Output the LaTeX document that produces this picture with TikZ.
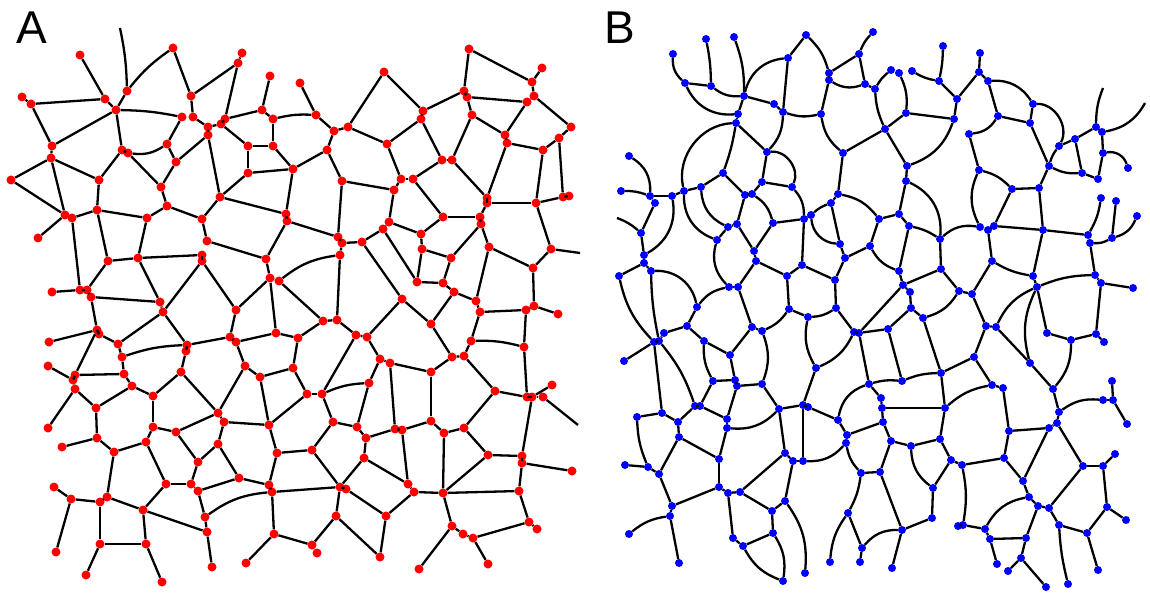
\documentclass[tikz,border=0pt]{standalone}
\usepackage{fontspec}
\newfontfamily\labfont{Liberation Sans}
\begin{document}
\begin{tikzpicture}[x=1pt,y=-1pt,
  rd/.style={circle,fill=red,inner sep=0pt,minimum size=9pt},
  bl/.style={circle,fill=blue,inner sep=0pt,minimum size=8pt},
  lnk/.style={line width=2.3pt,black},
  lab/.style={font=\labfont\fontsize{46}{46}\selectfont,anchor=base west,inner sep=0pt}]
\useasboundingbox (0,0) rectangle (1150,593);
\node[lab] (labA) at (16,44) {A};
\node[lab] (labB) at (604,44) {B};
% ---------------- panel A nodes ----------------
\foreach \x/\y in {80/55,173/48,242/53,238/63,270/76,300/83,22/97,31/104,105/99,127/91,116/110,191/96,182/117,193/117,208/127,208/135,221/124,225/119,262/110,273/119,248/146,273/146,293/169,248/173,52/146,51/158,122/150,128/153,167/144,176/162,161/187,11/180,99/180,220/197,167/206,97/210,65/215,72/218,147/218,202/219,286/214,
469/49,542/68,532/82,384/72,464/91,467/97,527/102,534/96,423/111,421/119,316/115,334/131,348/127,472/115,505/135,507/143,571/127,559/138,543/150,387/144,327/150,442/160,452/160,342/181,401/179,413/179,394/190,487/198,487/203,536/203,563/197,569/196,443/217,480/217,
38/238,108/261,138/258,207/241,202/255,202/261,266/259,287/221,270/278,279/281,52/292,80/290,87/290,91/297,160/302,163/312,236/310,97/330,99/334,49/342,118/344,122/357,187/345,186/351,230/337,236/342,276/333,298/338,48/366,75/375,73/380,124/374,181/372,245/366,260/377,293/368,75/389,132/386,153/396,
96/408,48/428,153/427,176/432,218/413,224/422,269/425,97/438,62/447,114/452,146/442,218/444,198/462,277/453,239/478,166/484,191/484,198/491,269/485,272/492,54/487,71/499,100/502,107/497,143/510,205/517,207/532,274/534,56/552,100/544,146/544,246/563,212/567,86/575,162/582,
338/237,342/243,362/242,383/229,389/222,481/224,421/234,340/255,422/249,451/258,489/247,551/249,533/268,417/282,443/283,454/292,402/299,476/301,534/306,526/310,480/312,558/314,323/321,337/320,431/324,356/335,367/337,471/341,524/347,380/359,390/363,452/357,464/356,431/372,369/383,307/394,322/394,495/391,527/397,532/397,552/385,543/397,
333/422,357/427,366/438,395/429,402/430,431/421,444/433,464/428,312/450,364/458,488/455,522/456,522/463,572/471,340/487,346/489,408/484,414/492,443/493,519/491,336/516,386/516,452/526,463/534,473/538,529/522,537/529,312/545,317/553,380/557,419/569,488/564}
  \node[rd] (a\x x\y) at (\x,\y) {};
\foreach \x/\y in {120/28,580/253,578/425}
  \coordinate (a\x x\y) at (\x,\y);
% ---------------- panel A links ----------------
\foreach \p/\q/\r/\s/\c in {80/55/105/99/0,120/28/127/91/5,127/91/173/48/8,127/91/116/110/0,22/97/31/104/0,31/104/105/99/0,31/104/52/146/0,105/99/116/110/0,173/48/191/96/0,238/63/191/96/0,242/53/238/63/0,238/63/225/119/0,270/76/262/110/0,262/110/225/119/0,262/110/273/119/0,273/119/316/115/8,116/110/182/117/5,191/96/193/117/0,193/117/208/127/0,182/117/167/144/0,167/144/128/153/20,167/144/176/162/0,176/162/208/135/0,208/127/221/124/0,208/127/208/135/0,221/124/225/119/0,221/124/248/146/0,248/146/273/146/0,248/146/248/173/0,273/119/273/146/0,273/146/293/169/0,248/173/293/169/0,248/173/220/197/0,208/135/220/197/0,220/197/286/214/0,116/110/52/146/0,116/110/122/150/0,52/146/51/158/0,51/158/11/180/0,11/180/65/215/0,51/158/65/215/0,51/158/99/180/0,122/150/99/180/0,122/150/128/153/0,128/153/161/187/0,176/162/161/187/0,161/187/167/206/0,99/180/97/210/0,97/210/72/218/0,97/210/147/218/0,167/206/147/218/0,167/206/202/219/0,220/197/202/219/0,293/169/286/214/0,
300/83/316/115/0,316/115/334/131/0,334/131/348/127/0,348/127/384/72/0,384/72/423/111/0,423/111/464/91/0,464/91/469/49/0,469/49/532/82/0,532/82/542/68/0,532/82/534/96/0,467/97/527/102/0,534/96/571/127/0,527/102/505/135/0,467/97/472/115/0,464/91/467/97/0,472/115/505/135/0,472/115/452/160/0,505/135/507/143/0,507/143/543/150/0,543/150/559/138/0,559/138/571/127/0,559/138/563/197/0,543/150/536/203/0,507/143/487/198/0,487/203/536/203/0,536/203/563/197/0,563/197/569/196/0,452/160/487/198/0,487/198/487/203/0,442/160/452/160/0,442/160/413/179/0,442/160/421/119/0,423/111/421/119/0,421/119/387/144/0,387/144/348/127/0,387/144/401/179/0,401/179/394/190/0,401/179/413/179/0,394/190/342/181/0,342/181/327/150/0,327/150/334/131/0,327/150/293/169/0,413/179/443/217/0,443/217/480/217/0,480/217/487/203/0,527/102/534/96/0,
38/238/65/215/0,72/218/80/290/0,97/210/108/261/0,147/218/138/258/0,202/219/207/241/0,207/241/266/259/0,266/259/287/221/0,286/214/287/221/0,108/261/138/258/0,138/258/202/255/0,202/255/202/261/0,108/261/87/290/0,52/292/80/290/0,80/290/87/290/0,87/290/91/297/0,91/297/160/302/0,138/258/160/302/0,160/302/163/312/0,202/261/163/312/0,202/261/236/310/0,236/310/270/278/0,266/259/270/278/0,270/278/279/281/0,279/281/340/255/15,279/281/323/321/0,270/278/276/333/0,91/297/97/330/0,97/330/99/334/0,49/342/97/330/0,99/334/118/344/0,163/312/118/344/0,163/312/187/345/0,118/344/122/357/0,122/357/187/345/8,187/345/186/351/0,186/351/181/372/0,187/345/230/337/0,236/310/230/337/0,230/337/236/342/0,236/342/276/333/0,276/333/298/338/0,298/338/323/321/0,298/338/293/368/0,236/342/245/366/0,245/366/260/377/0,260/377/293/368/0,260/377/269/425/0,97/330/75/375/0,75/375/73/380/0,48/366/73/380/0,75/375/124/374/0,73/380/75/389/0,122/357/124/374/0,124/374/132/386/0,132/386/153/396/0,181/372/153/396/0,181/372/218/413/0,245/366/218/413/0,
75/389/48/428/0,75/389/96/408/0,96/408/132/386/0,153/396/153/427/0,96/408/97/438/0,97/438/62/447/0,97/438/114/452/0,114/452/146/442/0,146/442/153/427/0,153/427/176/432/0,176/432/218/413/0,218/413/224/422/0,224/422/269/425/0,269/425/307/394/0,224/422/218/444/0,218/444/198/462/0,218/444/239/478/0,176/432/198/462/0,198/462/191/484/0,146/442/166/484/0,166/484/191/484/0,191/484/198/491/0,166/484/143/510/0,198/491/239/478/0,239/478/269/485/0,269/485/272/492/0,269/425/277/453/0,277/453/269/485/0,277/453/312/450/0,272/492/340/487/0,198/491/205/517/0,205/517/272/492/15,205/517/207/532/0,207/532/212/567/0,143/510/207/532/0,114/452/107/497/0,107/497/100/502/0,107/497/143/510/0,54/487/71/499/0,71/499/100/502/0,71/499/56/552/0,100/502/100/544/0,100/544/146/544/0,143/510/146/544/0,146/544/162/582/0,100/544/86/575/0,272/492/274/534/0,274/534/246/563/0,274/534/312/545/0,
287/221/338/237/0,342/181/338/237/0,338/237/342/243/0,342/243/362/242/0,342/243/340/255/0,362/242/383/229/0,383/229/389/222/0,389/222/394/190/0,389/222/421/234/0,421/234/443/217/0,481/224/480/217/0,481/224/451/258/0,421/234/422/249/0,422/249/451/258/0,451/258/443/283/0,422/249/417/282/0,383/229/417/282/0,417/282/443/283/0,443/283/454/292/0,454/292/476/301/0,454/292/431/324/0,362/242/402/299/0,402/299/431/324/0,402/299/367/337/0,431/324/452/357/0,340/255/337/320/0,323/321/337/320/0,337/320/356/335/0,356/335/367/337/0,356/335/322/394/0,367/337/380/359/0,380/359/390/363/0,390/363/431/372/0,431/372/452/357/0,452/357/464/356/0,464/356/495/391/0,464/356/471/341/0,471/341/480/312/0,476/301/480/312/0,481/224/489/247/0,489/247/476/301/0,489/247/533/268/0,533/268/551/249/0,551/249/536/203/0,551/249/580/253/0,533/268/534/306/0,534/306/558/314/0,534/306/526/310/0,526/310/480/312/0,526/310/524/347/0,471/341/524/347/8,524/347/527/397/0,495/391/527/397/0,527/397/532/397/0,532/397/552/385/0,532/397/543/397/0,543/397/578/425/0,
369/383/322/394/-10,369/383/380/359/0,307/394/322/394/0,293/368/307/394/0,322/394/333/422/0,333/422/357/427/0,357/427/369/383/0,357/427/366/438/0,366/438/395/429/0,390/363/395/429/0,395/429/402/430/0,402/430/431/421/0,431/421/431/372/0,431/421/444/433/0,444/433/464/428/0,464/428/495/391/0,532/397/522/456/0,464/428/488/455/0,488/455/522/456/0,522/456/522/463/0,522/463/572/471/0,522/463/519/491/0,444/433/443/493/0,443/493/519/491/0,443/493/488/455/0,443/493/452/526/0,452/526/419/569/0,452/526/463/534/0,463/534/473/538/0,473/538/529/522/0,519/491/529/522/0,529/522/537/529/0,473/538/488/564/0,333/422/312/450/0,312/450/340/487/0,366/438/364/458/0,364/458/340/487/0,364/458/408/484/0,402/430/408/484/0,408/484/414/492/0,414/492/443/493/0,414/492/386/516/0,340/487/346/489/0,346/489/386/516/0,386/516/380/557/0,340/487/336/516/0,336/516/380/557/0,336/516/312/545/0,312/545/317/553/0}
  \draw[lnk] (a\p x\q) to[bend left=\c] (a\r x\s);
% ---------------- panel B nodes ----------------
\foreach \x/\y in {706/39,734/37,673/54,806/35,873/32,788/58,859/54,829/73,829/80,685/83,711/86,744/96,774/104,783/112,821/114,865/84,875/89,891/70,899/73,738/114,736/123,767/152,843/153,885/129,629/156,723/173,762/182,792/187,621/191,650/196,655/203,672/196,684/191,701/187,745/195,752/194,838/194,831/203,804/219,811/215,879/219,899/214,912/71,939/81,943/46,980/53,979/72,988/81,957/99,1033/104,906/113,954/119,998/116,1030/123,969/134,1096/127,1102/132,1075/139,1059/146,1103/153,1049/166,907/166,1128/168,1082/173,1098/179,979/170,906/181,1012/189,1039/188,1101/198,1116/201,1137/216,
641/233,644/255,644/263,651/271,619/276,728/227,737/224,717/240,773/223,840/244,845/258,870/246,754/251,756/261,802/265,787/276,835/280,729/287,738/287,697/307,789/309,808/317,836/308,687/326,664/333,654/342,659/341,752/327,762/331,854/332,859/333,888/329,704/341,730/355,624/361,816/368,713/381,735/380,737/386,762/384,869/384,
909/226,940/239,980/227,988/230,994/226,1043/230,1088/235,1090/243,1112/238,992/261,899/271,941/269,1033/276,1095/275,1101/283,1133/288,1037/287,903/285,910/292,959/291,972/294,911/308,923/318,986/326,996/327,1047/333,1071/340,1096/334,1104/342,974/357,1030/363,941/373,902/381,881/398,992/385,1003/388,1053/389,1112/381,1103/400,1113/400,
637/417,662/413,678/422,695/406,700/406,727/419,727/428,779/409,803/405,808/407,838/420,847/435,846/443,882/408,883/422,679/437,719/459,785/453,793/461,803/461,625/465,648/467,659/474,861/473,880/472,719/487,728/493,740/492,785/501,672/506,670/516,772/511,848/513,773/533,733/538,743/546,629/534,862/548,679/563,830/562,860/562,805/573,783/581,
945/408,891/441,911/446,940/439,951/460,962/465,1004/458,1009/431,1049/428,1057/423,1059/412,1127/424,1115/454,1083/466,1103/466,933/488,1023/481,1029/497,1038/506,1049/508,1107/507,1126/520,932/518,958/526,963/525,985/529,1059/525,1087/533,902/530,990/539,1026/538,1021/558,997/564,892/568,1008/571,1098/570,1046/587,1068/584}
  \node[bl] (b\x x\y) at (\x,\y) {};
\foreach \x/\y in {617/218,1103/88,1145/103}
  \coordinate (b\x x\y) at (\x,\y);
% ---------------- panel B links ----------------
\foreach \p/\q/\r/\s/\c in {673/54/685/83/-25,706/39/711/86/5,685/83/711/86/0,711/86/744/96/-20,734/37/744/96/10,744/96/788/58/35,788/58/783/112/0,744/96/774/104/0,774/104/783/112/0,783/112/821/114/-15,806/35/788/58/0,806/35/829/73/15,829/73/829/80/0,829/73/859/54/0,859/54/873/32/10,859/54/865/84/0,829/80/865/84/-25,865/84/875/89/0,875/89/891/70/10,875/89/885/129/-10,829/80/821/114/0,821/114/843/153/-20,843/153/885/129/0,843/153/838/194/0,838/194/831/203/0,831/203/811/215/-10,811/215/804/219/0,838/194/879/219/20,685/83/738/114/-35,744/96/738/114/0,738/114/736/123/0,736/123/767/152/0,736/123/723/173/5,736/123/684/191/-50,783/112/767/152/20,767/152/762/182/0,767/152/792/187/60,762/182/792/187/0,723/173/701/187/0,723/173/745/195/0,762/182/752/194/0,745/195/752/194/0,701/187/684/191/0,672/196/684/191/0,650/196/672/196/0,629/156/650/196/30,621/191/650/196/10,650/196/655/203/0,792/187/804/219/20,752/194/773/223/20,701/187/728/227/-30,684/191/717/240/-35,672/196/644/255/35,
899/73/906/113/15,906/113/885/129/0,906/113/954/119/0,912/71/939/81/-10,943/46/939/81/5,939/81/957/99/0,957/99/954/119/0,957/99/979/72/0,980/53/979/72/0,979/72/988/81/0,988/81/1033/104/30,988/81/998/116/0,998/116/1030/123/0,998/116/969/134/25,1033/104/1030/123/0,1033/104/1059/146/60,954/119/907/166/25,969/134/979/170/0,885/129/907/166/0,907/166/906/181/0,906/181/899/214/0,879/219/899/214/0,979/170/1012/189/15,979/170/980/227/-25,1012/189/994/226/0,1012/189/1039/188/0,1039/188/1043/230/0,1030/123/1049/166/0,1049/166/1039/188/0,1049/166/1059/146/10,1059/146/1075/139/0,1075/139/1096/127/0,1096/127/1103/88/10,1102/132/1145/103/-25,1096/127/1102/132/0,1102/132/1103/153/0,1103/153/1128/168/40,1103/153/1098/179/0,1075/139/1082/173/0,1049/166/1082/173/-15,1082/173/1098/179/0,1101/198/1088/235/10,1116/201/1112/238/0,1137/216/1112/238/25,
655/203/641/233/0,617/218/641/233/10,641/233/644/255/0,644/255/644/263/0,644/263/619/276/0,644/263/651/271/0,651/271/697/307/40,619/276/654/342/-15,651/271/659/341/-5,654/342/659/341/0,659/341/664/333/0,664/333/687/326/0,687/326/697/307/0,697/307/729/287/20,624/361/654/342/0,659/341/695/406/10,654/342/662/413/0,687/326/704/341/0,704/341/730/355/0,730/355/752/327/0,730/355/735/380/0,704/341/713/381/-15,713/381/735/380/0,735/380/737/386/0,737/386/762/384/0,762/331/762/384/20,738/287/752/327/0,752/327/762/331/0,762/331/789/309/-15,729/287/738/287/0,729/287/717/240/30,717/240/728/227/0,728/227/737/224/0,737/224/745/195/0,737/224/754/251/0,754/251/773/223/0,773/223/804/219/0,754/251/756/261/0,756/261/738/287/0,756/261/787/276/0,787/276/802/265/0,787/276/789/309/0,802/265/804/219/0,802/265/835/280/0,835/280/845/258/0,845/258/840/244/0,840/244/831/203/0,811/215/840/244/-40,845/258/870/246/0,870/246/879/219/0,870/246/899/271/-20,835/280/836/308/0,836/308/808/317/15,808/317/789/309/0,808/317/816/368/-20,836/308/854/332/0,816/368/854/332/-20,854/332/859/333/0,859/333/888/329/0,859/333/869/384/0,888/329/911/308/0,869/384/881/398/0,762/384/779/409/0,737/386/727/419/0,713/381/700/406/0,816/368/803/405/0,
899/214/909/226/0,909/226/940/239/10,909/226/899/271/0,899/271/903/285/0,906/181/940/239/35,940/239/941/269/0,940/239/980/227/25,980/227/988/230/0,988/230/994/226/0,994/226/1043/230/0,988/230/992/261/0,992/261/1033/276/-10,992/261/972/294/0,941/269/959/291/0,941/269/903/285/0,903/285/859/333/0,903/285/910/292/0,910/292/911/308/0,911/308/923/318/0,923/318/959/291/-20,959/291/972/294/0,972/294/986/326/0,986/326/996/327/0,996/327/1037/287/20,1037/287/1033/276/0,1043/230/1033/276/0,1043/230/1088/235/0,1088/235/1090/243/0,1090/243/1112/238/-15,1090/243/1095/275/0,1037/287/1095/275/10,1095/275/1101/283/0,1101/283/1133/288/0,1101/283/1096/334/0,1096/334/1104/342/0,1096/334/1071/340/0,1071/340/1047/333/0,1047/333/1037/287/0,1071/340/1053/389/20,1053/389/1030/363/0,1030/363/996/327/0,1030/363/1037/287/20,986/326/974/357/0,974/357/941/373/0,974/357/992/385/0,941/373/902/381/-10,941/373/923/318/0,888/329/902/381/0,869/384/902/381/10,941/373/945/408/0,992/385/1003/388/0,1003/388/1009/431/0,1112/381/1113/400/0,1103/400/1113/400/0,1113/400/1127/424/0,
637/417/662/413/0,662/413/678/422/0,678/422/695/406/0,695/406/700/406/0,700/406/727/419/0,727/419/727/428/0,727/428/719/459/0,727/428/779/409/-25,779/409/803/405/0,803/405/808/407/0,808/407/838/420/0,838/420/869/384/30,838/420/847/435/0,847/435/883/422/0,847/435/846/443/0,846/443/803/461/25,779/409/785/453/0,803/405/803/461/0,785/453/793/461/0,785/453/740/492/0,793/461/785/501/0,793/461/803/461/0,678/422/679/437/0,679/437/719/459/0,719/459/719/487/0,679/437/659/474/0,637/417/648/467/-10,625/465/648/467/0,648/467/659/474/0,659/474/672/506/0,672/506/719/487/0,719/487/728/493/0,728/493/740/492/0,740/492/772/511/0,785/501/772/511/0,772/511/773/533/0,728/493/733/538/0,733/538/743/546/0,743/546/773/533/0,743/546/783/581/-20,773/533/783/581/20,785/501/805/573/20,672/506/670/516/0,670/516/629/534/-15,670/516/679/563/0,846/443/861/473/-15,861/473/880/472/0,861/473/848/513/10,848/513/830/562/-15,848/513/862/548/0,862/548/860/562/0,862/548/902/530/25,880/472/891/441/0,880/472/902/530/0,
881/398/882/408/0,882/408/945/408/0,882/408/883/422/0,945/408/992/385/15,883/422/891/441/0,891/441/911/446/0,911/446/940/439/0,940/439/945/408/0,940/439/951/460/0,951/460/962/465/0,951/460/933/488/0,911/446/933/488/-25,933/488/932/518/0,932/518/902/530/0,902/530/892/568/0,962/465/1004/458/0,962/465/963/525/10,958/526/963/525/0,963/525/985/529/0,985/529/1029/497/25,985/529/990/539/0,990/539/1026/538/0,1026/538/1038/506/0,1026/538/1021/558/0,990/539/997/564/0,1021/558/1008/571/0,1021/558/1046/587/0,1004/458/1009/431/0,1009/431/1049/428/0,1004/458/1023/481/0,1023/481/1029/497/0,1023/481/1049/428/0,1049/428/1057/423/0,1057/423/1059/412/0,1059/412/1103/400/20,1053/389/1059/412/0,1057/423/1083/466/0,1083/466/1103/466/0,1103/466/1115/454/0,1103/466/1107/507/0,1107/507/1126/520/0,1107/507/1087/533/0,1087/533/1059/525/0,1049/508/1059/525/0,1049/508/1083/466/0,1059/525/1068/584/-5,1087/533/1098/570/0,1029/497/1038/506/0,1038/506/1049/508/0}
  \draw[lnk] (b\p x\q) to[bend left=\c] (b\r x\s);
\end{tikzpicture}
\end{document}
